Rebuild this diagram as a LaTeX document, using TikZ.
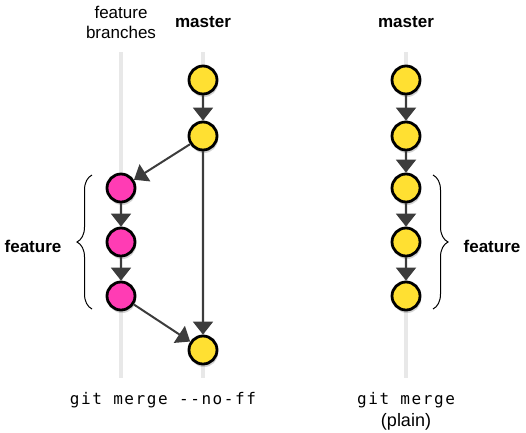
\documentclass[tikz,border=0pt]{standalone}
\usepackage{fontspec}
\setmainfont{Liberation Sans}
\newfontfamily\codefont[LetterSpace=10]{DejaVu Sans Mono}
\usetikzlibrary{arrows.meta, shadows, decorations.pathreplacing}
\definecolor{commityellow}{RGB}{255,224,50}
\definecolor{commitpink}{RGB}{255,60,180}
\definecolor{edgegray}{RGB}{60,60,60}
\definecolor{lanegray}{RGB}{232,232,232}
\tikzset{
    normal/.style={draw, line width=2.8pt},
    c/.style={style=normal, circle, inner sep=0, minimum size=28pt,
      drop shadow={opacity=0.35, shadow xshift=1pt, shadow yshift=-3pt}},
    cy/.style={style=c, fill=commityellow}, % commit on master
    cp/.style={style=c, fill=commitpink}, % commit on a feature branch
    e/.style={draw=edgegray, line width=2pt, -{Triangle[width=20pt 0 0,length=13pt 0 0]}},
    lane/.style={draw=lanegray, line width=4pt},
    br/.style={draw, line width=1pt, decorate, decoration={brace, amplitude=15pt, aspect=0.5}},
    title/.style={font=\fontsize{17}{20}\selectfont, align=center},
    code/.style={font=\codefont\fontsize{16}{22}\selectfont, align=center}
}

\begin{document}
\begin{tikzpicture}[x=1pt, y=-1pt]
          \useasboundingbox (0,0) rectangle (526,432);

          % lanes
          \coordinate (fl_top) at (121, 52);
          \coordinate (fl_bot) at (121, 378);
          \coordinate (ml_top) at (203, 52);
          \coordinate (ml_bot) at (203, 378);
          \coordinate (pl_top) at (406, 52);
          \coordinate (pl_bot) at (406, 378);
          \draw[lane] (fl_top) to (fl_bot);
          \draw[lane] (ml_top) to (ml_bot);
          \draw[lane] (pl_top) to (pl_bot);

          % no-ff merge
          \node[title] (fb) at (121, 22) {feature\\branches};
          \node[title, font=\fontsize{17}{20}\selectfont\bfseries] (ml) at (203, 22) {master};
          \node[cy] (m1) at (203, 80) {};
          \node[cy] (m2) at (203, 136) {};
          \node[cp] (f1) at (121, 188) {};
          \node[cp] (f2) at (121, 242) {};
          \node[cp] (f3) at (121, 296) {};
          \node[cy] (mm) at (203, 350) {};
          \node[code] (nf) at (163, 400) {git merge -{}-no-ff};

          \draw[e] (m1) to (m2);
          \draw[e] (m2) to (f1);
          \draw[e] (f1) to (f2);
          \draw[e] (f2) to (f3);
          \draw[e] (f3) to (mm);
          \draw[e] (m2) to (mm);

          \coordinate (lb_bot) at (92, 309);
          \coordinate (lb_top) at (92, 175);
          \draw[br] (lb_bot) to (lb_top);
          \node[title, font=\fontsize{17}{20}\selectfont\bfseries] (lf) at (33, 246) {feature};

          % plain merge
          \node[title, font=\fontsize{17}{20}\selectfont\bfseries] (pl) at (406, 22) {master};
          \node[cy] (p1) at (406, 80) {};
          \node[cy] (p2) at (406, 136) {};
          \node[cy] (p3) at (406, 188) {};
          \node[cy] (p4) at (406, 242) {};
          \node[cy] (p5) at (406, 296) {};
          \node[code] (pm) at (406, 411) {git merge\\{\rmfamily\fontsize{18}{22}\selectfont (plain)}};

          \draw[e] (p1) to (p2);
          \draw[e] (p2) to (p3);
          \draw[e] (p3) to (p4);
          \draw[e] (p4) to (p5);

          \coordinate (rb_top) at (433, 175);
          \coordinate (rb_bot) at (433, 309);
          \draw[br] (rb_top) to (rb_bot);
          \node[title, font=\fontsize{17}{20}\selectfont\bfseries] (rf) at (492, 246) {feature};
        \end{tikzpicture}
\end{document}
